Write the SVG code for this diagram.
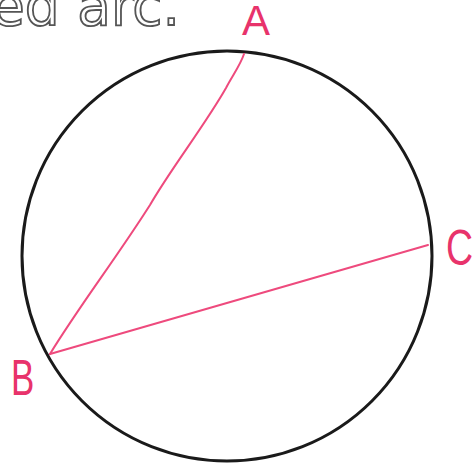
<svg xmlns="http://www.w3.org/2000/svg" width="475" height="468" viewBox="0 0 475 468">
<style>
.hdr{font-family:"DejaVu Sans","Liberation Sans",sans-serif;font-size:55px;fill:#fff;stroke:#555;stroke-width:1.8}
.lbl{font-family:"Liberation Sans",sans-serif;fill:#e8336b}
.chord{fill:none;stroke:#ee4a7d;stroke-width:2;stroke-linecap:round}
</style>
<rect width="475" height="468" fill="#fff"/>
<text class="hdr" x="-9" y="25">ed arc.</text>
<g id="circle"><circle cx="227" cy="256" r="205" fill="none" stroke="#1a1a1a" stroke-width="3"/></g>
<g id="connectors">
<path class="chord" d="M244 54 C240 66 232 76 226 88 C205 125 170 170 150 205 C115 260 80 305 50 354"/>
<path class="chord" d="M50 354 L428 245"/>
</g>
<g id="A"><text class="lbl" x="242" y="35" font-size="42">A</text></g>
<g id="B"><text class="lbl" font-size="50" transform="translate(11 395) scale(0.7 1)">B</text></g>
<g id="C"><text class="lbl" font-size="50" transform="translate(446 265) scale(0.75 1)">C</text></g>
</svg>
